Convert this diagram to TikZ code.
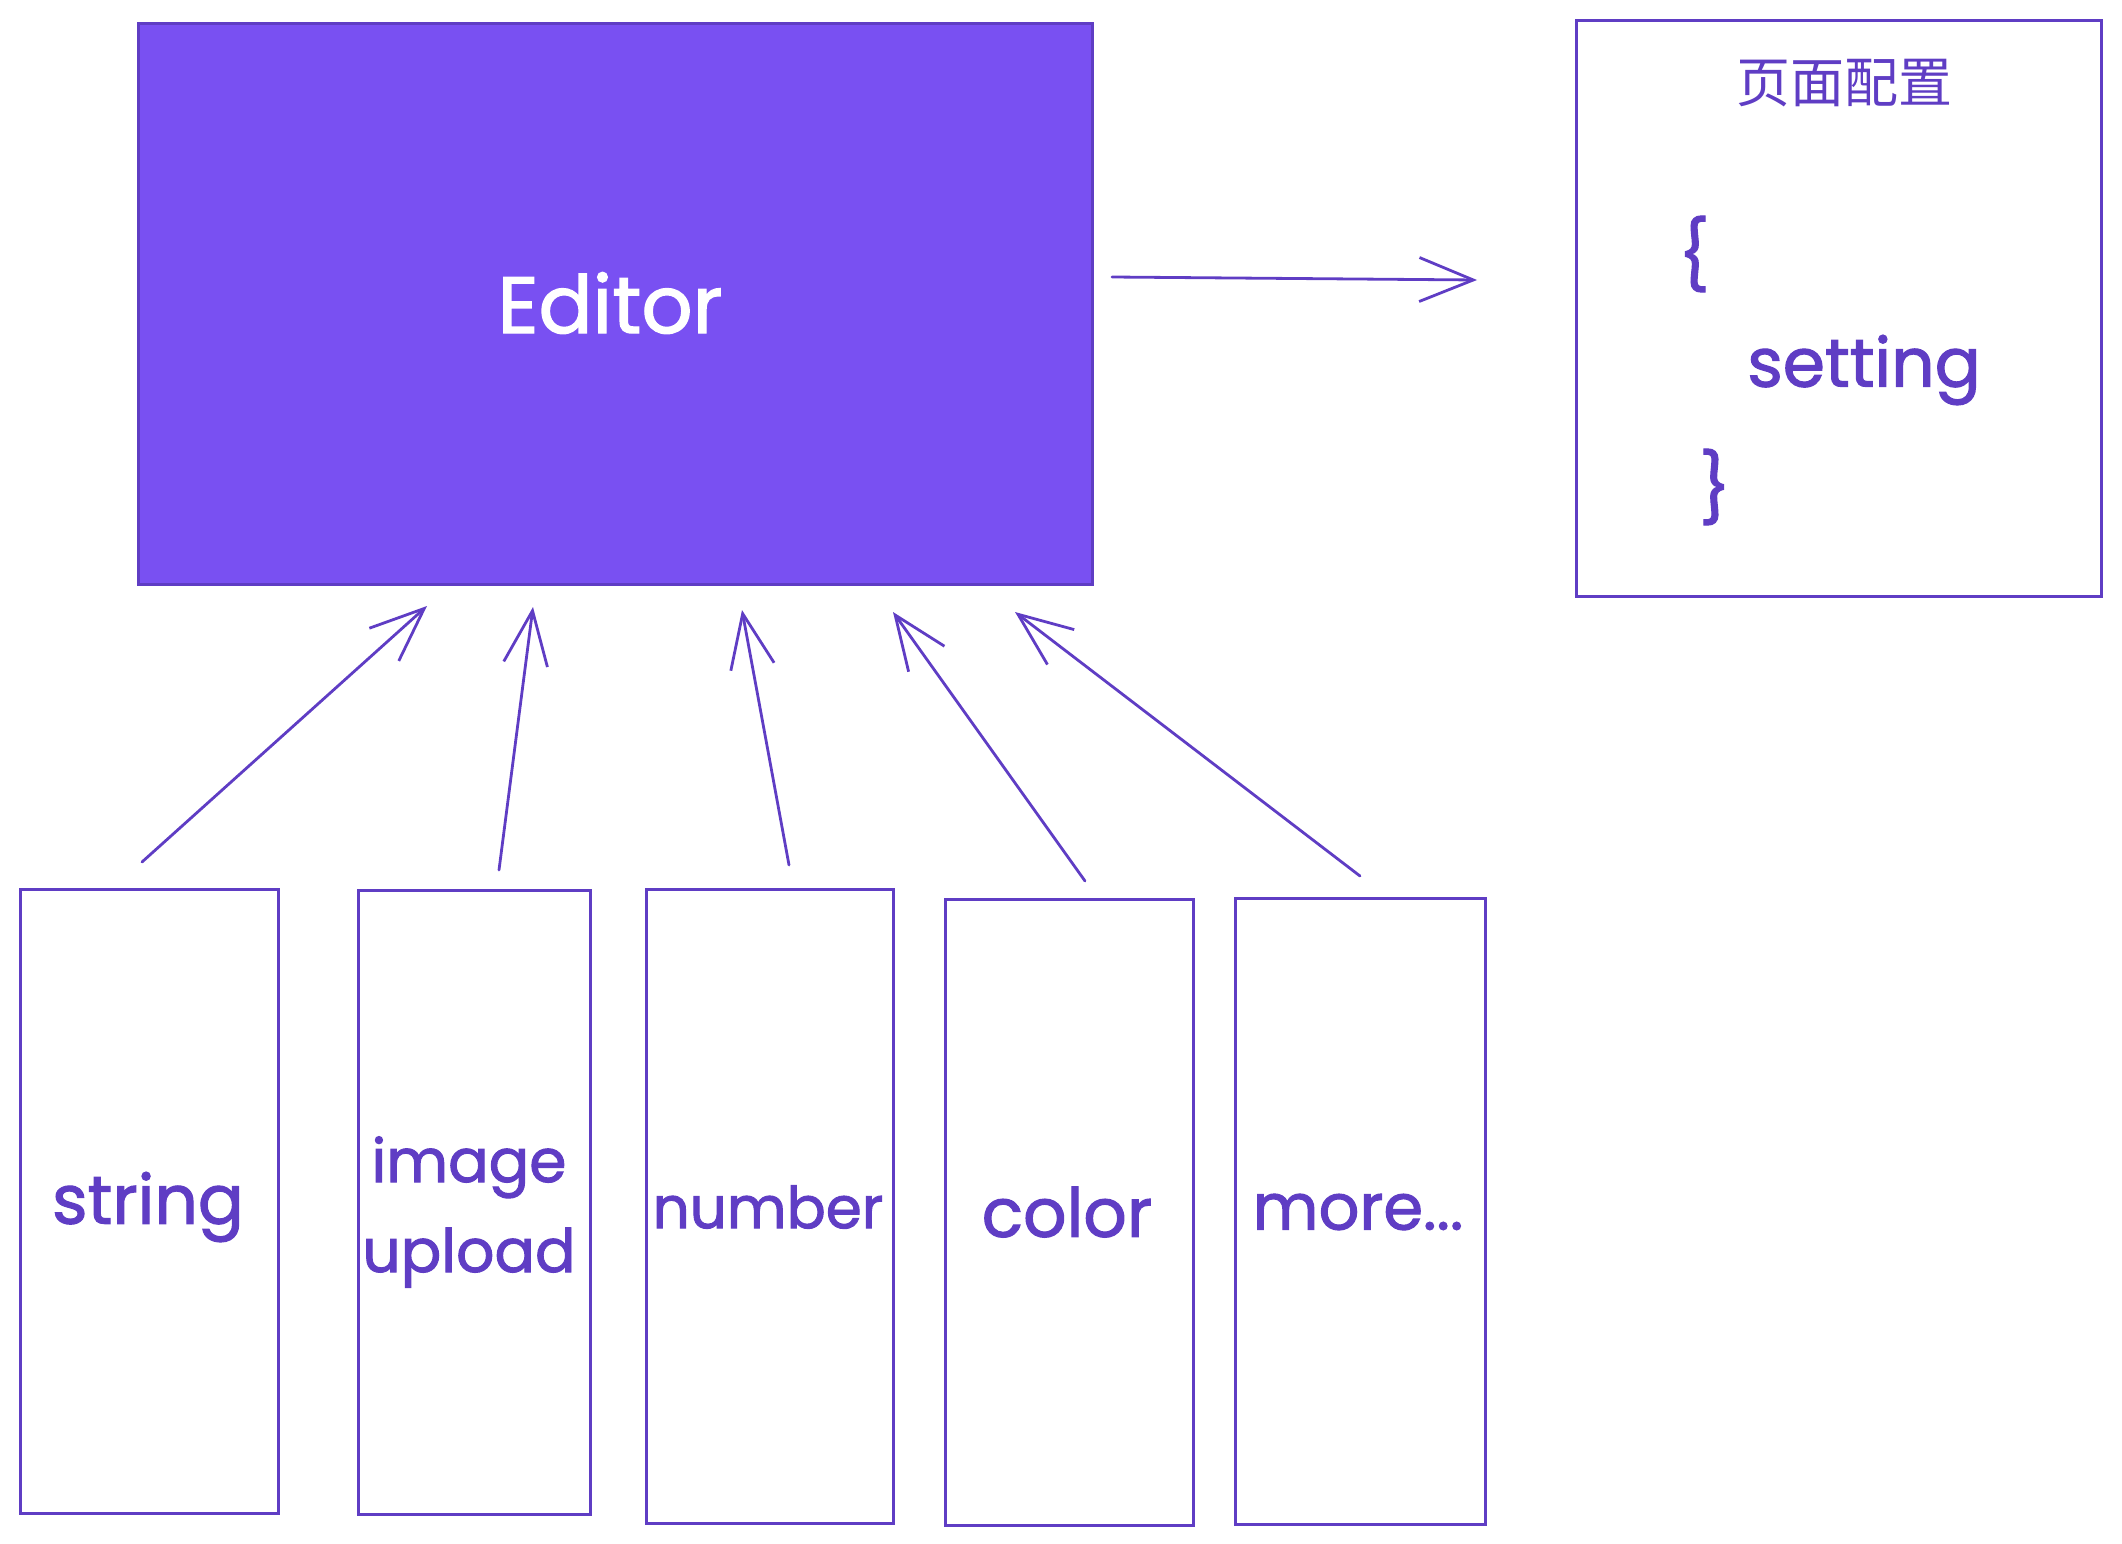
\documentclass[tikz,border=0pt]{standalone}
\usepackage{fontspec}
\setmainfont{Poppins}
\newfontfamily\hand[FakeBold=1.6]{Poppins}
\newfontfamily\cjk{Noto Sans CJK SC}
\usetikzlibrary{arrows.meta}
\definecolor{vfill}{HTML}{7950F2}
\definecolor{vline}{HTML}{5F3DC4}
\tikzset{
  sketchbox/.style={draw=vline, line width=3pt, inner sep=0pt, anchor=north west},
  label/.style={text=vline, font=\hand\fontsize{68}{90}\selectfont, align=center},
  conn/.style={draw=vline, line width=2.8pt, line cap=round,
    -{Straight Barb[length=54pt, width=44pt, line width=2.8pt]}},
}
\begin{document}
\begin{tikzpicture}[x=1pt, y=-1pt]
\useasboundingbox (0,0) rectangle (2122,1544);
% Editor
\node[sketchbox, fill=vfill, minimum width=954pt, minimum height=561pt] (editor) at (137,22) {};
\node[text=white, font=\hand\fontsize{80}{90}\selectfont] (editortext) at (610,303) {Editor};
% page config
\node[sketchbox, minimum width=525pt, minimum height=576pt] (page) at (1575,19) {};
\node[text=vline, font=\cjk\fontsize{54}{64}\selectfont] (pagetitle) at (1844,83) {页面配置};
\node[label] (lbrace) at (1694,254) {\{};
\node[label] (setting) at (1864,370) {setting};
\node[label] (rbrace) at (1715,487) {\}};
% bottom boxes
\node[sketchbox, minimum width=258pt, minimum height=624pt] (bstring) at (19,888) {};
\node[sketchbox, minimum width=232pt, minimum height=624pt] (bimage) at (357,889) {};
\node[sketchbox, minimum width=247pt, minimum height=634pt] (bnumber) at (645,888) {};
\node[sketchbox, minimum width=248pt, minimum height=626pt] (bcolor) at (944,898) {};
\node[sketchbox, minimum width=250pt, minimum height=626pt] (bmore) at (1234,897) {};
\node[label] (tstring) at (148,1207) {string};
\node[label, font=\hand\fontsize{60}{90}\selectfont] (timage) at (469,1212) {image\\upload};
\node[label, font=\hand\fontsize{58}{90}\selectfont] (tnumber) at (768,1207) {number};
\node[label] (tcolor) at (1067,1212) {color};
\node[label, font=\hand\fontsize{64}{90}\selectfont] (tmore) at (1358,1212) {more...};
% connector end points
\coordinate (eo) at (1112,277);
\coordinate (ei) at (1477,280);
\coordinate (s1) at (142,862);
\coordinate (t1) at (427,606);
\coordinate (s2) at (499,870);
\coordinate (t2) at (533,607);
\coordinate (s3) at (789,865);
\coordinate (t3) at (742,610);
\coordinate (s4) at (1085,881);
\coordinate (t4) at (893,612);
\coordinate (s5) at (1360,876);
\coordinate (t5) at (1015,612);
\draw[conn] (eo) -- (ei);
\draw[conn] (s1) -- (t1);
\draw[conn] (s2) -- (t2);
\draw[conn] (s3) -- (t3);
\draw[conn] (s4) -- (t4);
\draw[conn] (s5) -- (t5);
\end{tikzpicture}
\end{document}
